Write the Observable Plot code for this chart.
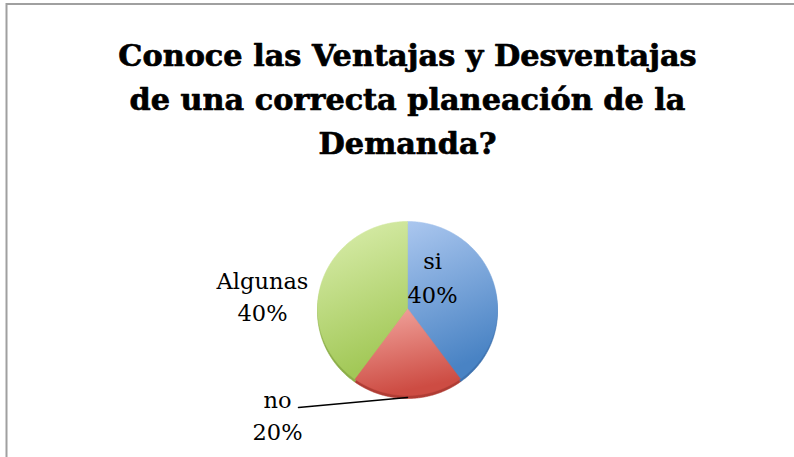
<!DOCTYPE html>
<html><head><meta charset="utf-8">
<script src="https://cdn.jsdelivr.net/npm/d3@7"></script>
<script src="https://cdn.jsdelivr.net/npm/@observablehq/plot@0.6"></script>
<style>body{margin:0;background:#fff} svg{display:block}</style>
</head><body><div id="chart"></div>
<script>
// ---- data ----
const titleLines = ["Conoce las Ventajas y Desventajas", "de una correcta planeación de la", "Demanda?"];
const categories = ["si", "no", "Algunas"];
const values = [40, 20, 40];
const percentLabels = ["40%", "20%", "40%"];

// ---- styles ----
const topColors = ["#abc7ef", "#f3a8a1", "#dcefb0"];
const bottomColors = ["#4983c4", "#cd4c43", "#a2c857"];
const rimColors = ["#3f73b0", "#b03c34", "#8cae48"];

// ---- layout ----
const W = 794, H = 457;
const cx = 407, cy = 308, rx = 90, ry = 87;

const rows = categories.map((c, i) => ({category: c, value: values[i], pct: percentLabels[i], i}));
const arcs = d3.pie().sort(null).value(d => d.value)(rows);

function slicePoints(a) {
  const pts = [{x: cx, y: cy}];
  const n = Math.max(2, Math.ceil((a.endAngle - a.startAngle) / (Math.PI / 360)));
  for (let k = 0; k <= n; k++) {
    const t = a.startAngle + (a.endAngle - a.startAngle) * k / n;
    pts.push({x: cx + rx * Math.sin(t), y: cy - ry * Math.cos(t)});
  }
  pts.push({x: cx, y: cy});
  return pts;
}

const defs = () => {
  const d = d3.create("svg:defs");
  rows.forEach((r, i) => {
    const g = d.append("linearGradient").attr("id", "grad" + i)
      .attr("x1", 0).attr("y1", 0).attr("x2", 0.25).attr("y2", 1);
    g.append("stop").attr("offset", "0%").attr("stop-color", topColors[i]);
    g.append("stop").attr("offset", "100%").attr("stop-color", bottomColors[i]);
  });
  return d.node();
};

const sliceMarks = [];
arcs.forEach((a, i) => {
  const pts = slicePoints(a);
  sliceMarks.push(Plot.line(pts, {x: "x", y: "y", fill: rimColors[i], stroke: rimColors[i], strokeWidth: 0.6, dy: 3}));
});
arcs.forEach((a, i) => {
  const pts = slicePoints(a);
  sliceMarks.push(Plot.line(pts, {x: "x", y: "y", fill: `url(#grad${i})`, stroke: `url(#grad${i})`, strokeWidth: 0.6}));
});

// label positions (layout) relative to pie
const labelPos = [
  {dx: 25, y1: -40, y2: -6},   // si
  {dx: -130, y1: 99, y2: 131}, // no
  {dx: -145, y1: -20, y2: 12}  // Algunas
];
const labelRows = [];
rows.forEach((r, i) => {
  labelRows.push({x: cx + labelPos[i].dx, y: cy + labelPos[i].y1, text: r.category});
  labelRows.push({x: cx + labelPos[i].dx, y: cy + labelPos[i].y2, text: r.pct});
});

// leader line for "no": from label to the rim at the slice's mid angle
const noArc = arcs[1];
const mid = (noArc.startAngle + noArc.endAngle) / 2;
const leader = [
  {x: cx - 109, y: cy + 99},
  {x: cx + rx * Math.sin(mid), y: cy - ry * Math.cos(mid) + 2}
];

const titleRows = titleLines.map((t, i) => ({x: 407, y: 65 + i * 44, text: t}));

const chart = Plot.plot({
  width: W, height: H, margin: 0,
  x: {domain: [0, W], range: [0, W], axis: null},
  y: {domain: [0, H], range: [0, H], axis: null},
  style: {background: "#fff"},
  marks: [
    defs,
    Plot.rect([{}], {x1: 6.5, x2: W + 10, y1: 4, y2: H + 10, fill: "none", stroke: "#a0a0a0", strokeWidth: 2}),
    Plot.text(titleRows, {x: "x", y: "y", text: "text", textAnchor: "middle", lineAnchor: "bottom",
      fontFamily: "DejaVu Serif", fontWeight: "bold", fontSize: 30.3, fill: "#000",
      stroke: "#000", strokeWidth: 0.7}),
    ...sliceMarks,
    Plot.line(leader, {x: "x", y: "y", stroke: "#000", strokeWidth: 1.5}),
    Plot.text(labelRows, {x: "x", y: "y", text: "text", textAnchor: "middle", lineAnchor: "bottom",
      fontFamily: "DejaVu Serif", fontSize: 22.5, fill: "#000"})
  ]
});
document.getElementById("chart").appendChild(chart);
</script>
</body></html>
